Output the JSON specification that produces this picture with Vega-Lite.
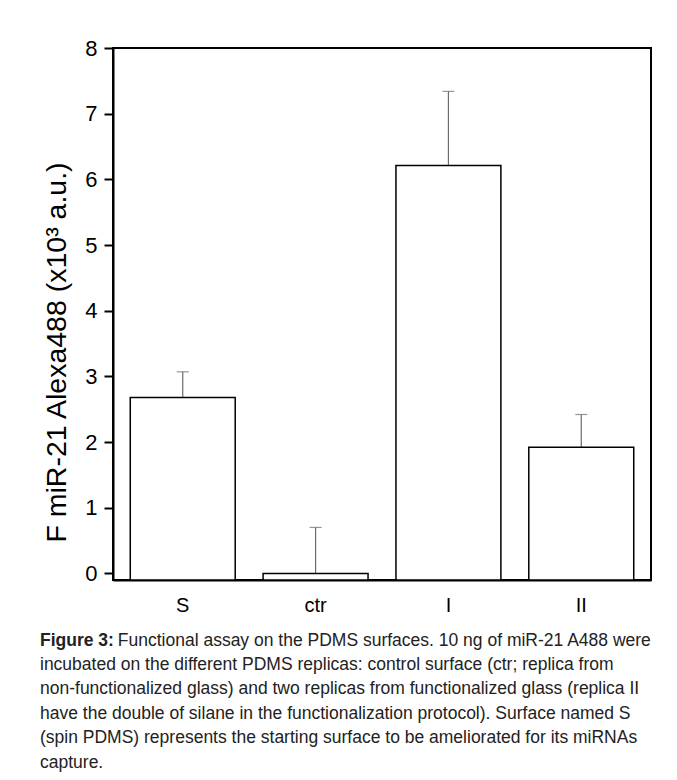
{
  "$schema": "https://vega.github.io/schema/vega-lite/v6.json",
  "autosize": "none",
  "width": 538,
  "height": 532,
  "padding": {"left": 113, "top": 48, "right": 26, "bottom": 200},
  "background": "white",
  "config": {
    "view": {"stroke": "black", "strokeWidth": 2},
    "font": "Liberation Sans"
  },
  "title": {
    "text": "Figure 3:",
    "subtitle": [
      "\u200b\u00a0\u00a0\u00a0\u00a0\u00a0\u00a0\u00a0\u00a0\u00a0\u00a0\u00a0\u00a0\u00a0\u00a0\u00a0\u00a0Functional assay on the PDMS surfaces. 10 ng of miR-21 A488 were",
      "incubated on the different PDMS replicas: control surface (ctr; replica from",
      "non-functionalized glass) and two replicas from functionalized glass (replica II",
      "have the double of silane in the functionalization protocol). Surface named S",
      "(spin PDMS) represents the starting surface to be ameliorated for its miRNAs",
      "capture."
    ],
    "orient": "bottom",
    "anchor": "start",
    "frame": "bounds",
    "font": "Liberation Sans",
    "fontSize": 17.5,
    "fontWeight": "bold",
    "color": "#222222",
    "lineHeight": 24.4,
    "subtitleFont": "Liberation Sans",
    "subtitleFontSize": 17.5,
    "subtitleFontWeight": "normal",
    "subtitleColor": "#222222",
    "subtitleLineHeight": 24.4,
    "subtitlePadding": -18,
    "offset": 17,
    "dx": -2
  },
  "data": {
    "values": [
      {"g": "S", "v": 2.68, "hi": 3.07},
      {"g": "ctr", "v": 0.0, "hi": 0.70},
      {"g": "I", "v": 6.21, "hi": 7.34},
      {"g": "II", "v": 1.92, "hi": 2.42}
    ]
  },
  "encoding": {
    "x": {
      "field": "g",
      "type": "nominal",
      "sort": ["S", "ctr", "I", "II"],
      "scale": {"paddingInner": 0.21, "paddingOuter": 0.13},
      "axis": {
        "title": null,
        "labelAngle": 0,
        "ticks": false,
        "domainColor": "black",
        "domainWidth": 2,
        "labelFont": "Liberation Sans",
        "labelFontSize": 20,
        "labelColor": "black",
        "labelPadding": 15
      }
    }
  },
  "layer": [
    {
      "mark": {"type": "rule", "color": "#6b6b6b", "strokeWidth": 1.2},
      "encoding": {
        "y": {
          "field": "v",
          "type": "quantitative",
          "scale": {"domain": [-0.1, 8], "nice": false, "zero": false},
          "axis": {
            "values": [0, 0.5, 1, 1.5, 2, 2.5, 3, 3.5, 4, 4.5, 5, 5.5, 6, 6.5, 7, 7.5, 8],
            "labelExpr": "datum.value % 1 === 0 ? format(datum.value, 'd') : ''",
            "grid": false,
            "tickSize": {"condition": {"test": "datum.value % 1 === 0", "value": 9}, "value": 5},
            "tickWidth": 2,
            "tickColor": "black",
            "domainColor": "black",
            "domainWidth": 2,
            "labelFont": "Liberation Sans",
            "labelFontSize": 22,
            "labelColor": "black",
            "labelPadding": 7,
            "title": "F miR-21 Alexa488 (x10³ a.u.)",
            "titleFont": "Liberation Sans",
            "titleFontSize": 28.5,
            "titleFontWeight": "normal",
            "titleColor": "black",
            "titleX": -42,
            "titleY": 304
          }
        },
        "y2": {"field": "hi"}
      }
    },
    {
      "mark": {"type": "tick", "color": "#6b6b6b", "thickness": 1.2, "size": 12, "orient": "horizontal"},
      "encoding": {
        "y": {"field": "hi", "type": "quantitative"}
      }
    },
    {
      "mark": {"type": "bar", "fill": "white", "stroke": "black", "strokeWidth": 1.5},
      "encoding": {
        "y": {"field": "v", "type": "quantitative"},
        "y2": {"datum": -0.1}
      }
    }
  ]
}
